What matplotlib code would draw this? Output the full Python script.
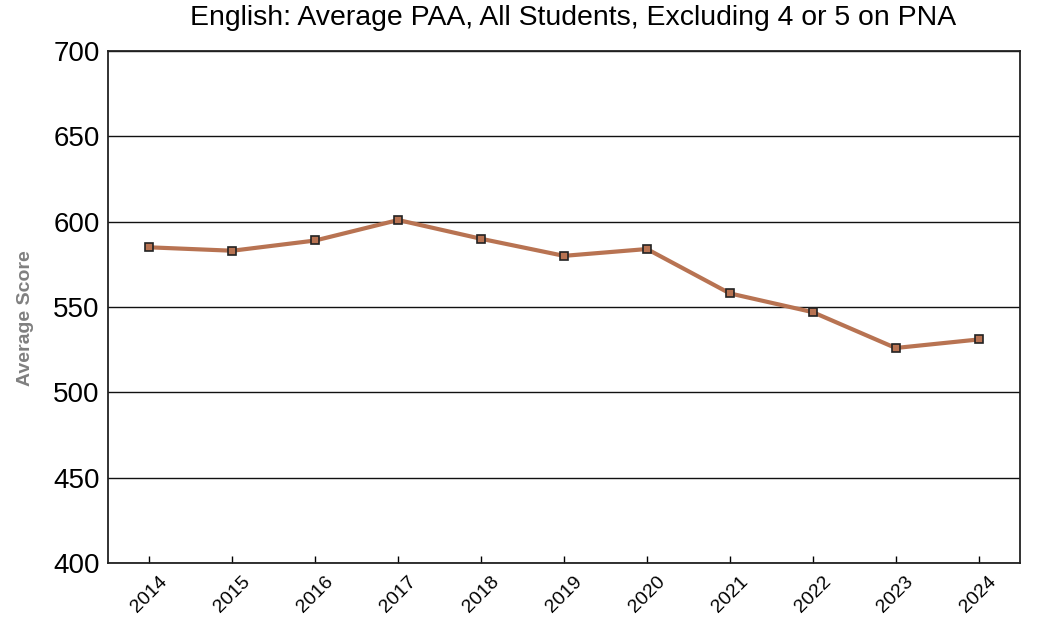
import matplotlib
matplotlib.use("Agg")
import matplotlib.pyplot as plt

years = ["2014", "2015", "2016", "2017", "2018", "2019", "2020", "2021", "2022", "2023", "2024"]
scores = [585, 583, 589, 601, 590, 580, 584, 558, 547, 526, 531]
yticks = [400, 450, 500, 550, 600, 650, 700]

plt.rcParams['font.family'] = ['Liberation Sans', 'DejaVu Sans']
fig = plt.figure(figsize=(10.63, 6.23), dpi=100)
ax = fig.add_axes([0.1016, 0.0963, 0.858, 0.8217])

x = list(range(len(years)))
ax.plot(x, scores, color="#b87352", lw=3, marker="s", markersize=6,
        markerfacecolor="#b87352", markeredgecolor="#222222", markeredgewidth=1.2, zorder=3)

ax.set_xlim(-0.5, len(years) - 0.5)
ax.set_ylim(400, 700)
ax.set_yticks(yticks)
ax.set_yticklabels([str(v) for v in yticks], fontsize=20)
ax.set_xticks(x)
ax.set_xticklabels(years, rotation=45, fontsize=14, ha="center")
ax.tick_params(axis="x", direction="in", length=5, width=1, pad=7)
ax.tick_params(axis="y", length=0, pad=6)
ax.yaxis.grid(True, color="#111111", lw=1)
ax.set_axisbelow(True)
for s in ax.spines.values():
    s.set_color("#222222")
    s.set_linewidth(1.3)

ax.set_ylabel("Average Score", fontsize=14, fontweight="bold", color="#808080")
ax.yaxis.set_label_coords(-0.081, 0.478)
fig.text(0.5395, 1 - 18/623, "English: Average PAA, All Students, Excluding 4 or 5 on PNA",
         fontsize=20.4, ha="center", va="center")

fig.savefig("out.png", dpi=100)
